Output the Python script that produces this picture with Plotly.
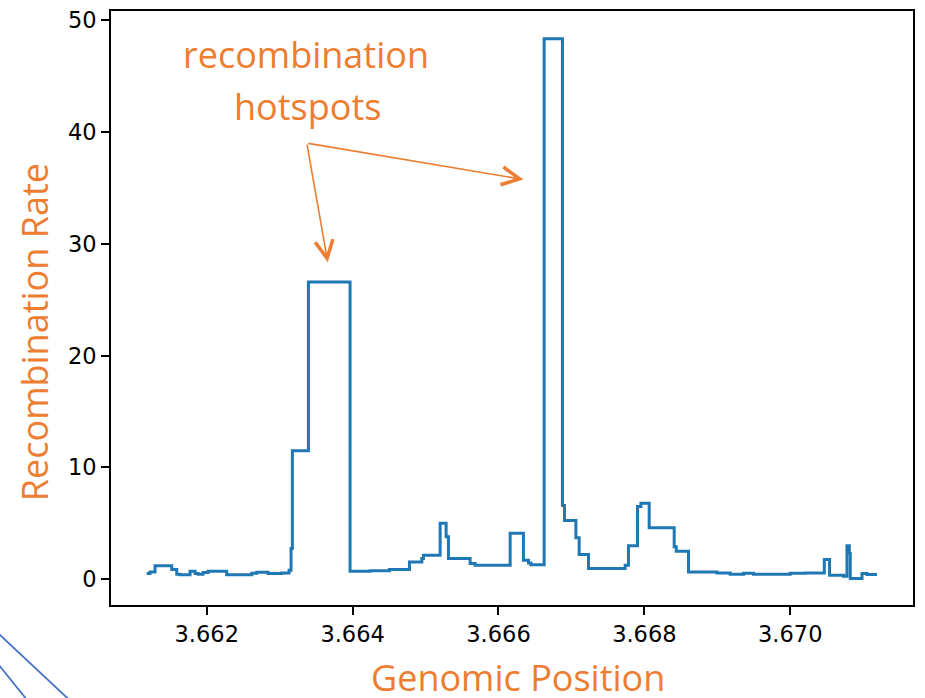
import plotly.graph_objects as go

# Genomic positions (step start points) and recombination rates
positions = [
    3.661177, 3.661222, 3.661291, 3.661520, 3.661589, 3.661634, 3.661771, 3.661840,
    3.661881, 3.661949, 3.662018, 3.662274, 3.662617, 3.662686, 3.662841, 3.663029,
    3.663129, 3.663156, 3.663174, 3.663394, 3.663965, 3.664240, 3.664504, 3.664779,
    3.664949, 3.664971, 3.665200, 3.665282, 3.665314, 3.665611, 3.665680, 3.666160,
    3.666342, 3.666411, 3.666444, 3.666626, 3.666877, 3.666905, 3.667061, 3.667106,
    3.667234, 3.667737, 3.667782, 3.667906, 3.667953, 3.668066, 3.668409, 3.668437,
    3.668605, 3.668995, 3.669177, 3.669360, 3.669497, 3.670000, 3.670206, 3.670467,
    3.670539, 3.670731, 3.670778, 3.670810, 3.670823, 3.670984, 3.671052, 3.671189,
]
rates = [
    0.50, 0.65, 1.20, 0.86, 0.44, 0.40, 0.70, 0.50,
    0.45, 0.60, 0.70, 0.40, 0.53, 0.62, 0.50, 0.56,
    0.80, 2.75, 11.5, 26.6, 0.72, 0.76, 0.86, 1.54,
    1.84, 2.15, 5.0, 3.8, 1.84, 1.40, 1.24, 4.1,
    1.70, 1.45, 1.30, 48.35, 6.6, 5.24, 3.7, 2.2,
    0.95, 1.24, 3.0, 6.5, 6.8, 4.6, 2.9, 2.5,
    0.65, 0.56, 0.44, 0.53, 0.44, 0.53, 0.56, 1.75,
    0.36, 0.27, 3.0, 2.3, 0.06, 0.50, 0.42, 0.42,
]

x_ticks = [3.662, 3.664, 3.666, 3.668, 3.670]
x_tick_labels = ["3.662", "3.664", "3.666", "3.668", "3.670"]
y_ticks = [0, 10, 20, 30, 40, 50]
y_tick_labels = ["0", "10", "20", "30", "40", "50"]

ORANGE = "#ED7D31"
BLUE = "#1f77b4"

fig = go.Figure()
fig.add_trace(go.Scatter(
    x=positions, y=rates, mode="lines", line_shape="hv",
    line=dict(color=BLUE, width=3), showlegend=False, hoverinfo="skip",
))

axis_common = dict(
    showline=True, linecolor="black", linewidth=1.8, mirror=True,
    ticks="outside", ticklen=8, tickwidth=1.6, tickcolor="black",
    showgrid=False, zeroline=False,
    tickfont=dict(family="DejaVu Sans", size=22.5, color="black"),
)

fig.update_layout(
    width=925, height=698, autosize=False,
    margin=dict(l=111, r=12, t=7, b=93, pad=0),
    paper_bgcolor="white", plot_bgcolor="white",
    xaxis=dict(range=[3.6606874, 3.6716831], tickmode="array",
               tickvals=x_ticks, ticktext=x_tick_labels, **axis_common),
    yaxis=dict(range=[-2.311, 50.84], tickmode="array",
               tickvals=y_ticks, ticktext=y_tick_labels, **axis_common),
)

title_font = dict(family="Open Sans", size=36, color=ORANGE)
annos = [
    dict(text="Genomic Position", xref="paper", yref="paper",
         x=0.5077, y=-0.122, xanchor="center", yanchor="middle",
         showarrow=False, font=title_font),
    dict(text="Recombination Rate", xref="paper", yref="paper",
         x=-0.095, y=0.459, xanchor="center", yanchor="middle", textangle=-90,
         showarrow=False, font=title_font),
    dict(text="recombination", xref="paper", yref="paper",
         x=0.2435, y=0.926, xanchor="center", yanchor="middle",
         showarrow=False, font=title_font),
    dict(text="hotspots", xref="paper", yref="paper",
         x=0.2445, y=0.840, xanchor="center", yanchor="middle",
         showarrow=False, font=title_font),
]
# arrows from the label to both hotspots
tail = (3.663372, 39.02)
for head in [(3.663660, 28.36), (3.666342, 35.76)]:
    annos.append(dict(
        text="", x=head[0], y=head[1], xref="x", yref="y",
        ax=tail[0], ay=tail[1], axref="x", ayref="y",
        showarrow=True, arrowhead=5, arrowsize=2.2, arrowwidth=1.6,
        arrowcolor=ORANGE, standoff=0, startstandoff=0,
    ))
fig.update_layout(annotations=annos)

# decorative slide lines at bottom-left
px_l, px_w, px_t, px_h = 111, 801.7, 7, 598
def pxp(x, y):
    return (x - px_l) / px_w, (px_t + px_h - y) / px_h
for (x0, y0, x1, y1) in [(-20, 616.2, 80, 710.6), (-10, 654.2, 35, 710.5)]:
    a = pxp(x0, y0); b = pxp(x1, y1)
    fig.add_shape(type="line", xref="paper", yref="paper",
                  x0=a[0], y0=a[1], x1=b[0], y1=b[1],
                  line=dict(color="#4472C4", width=1.8))

fig.write_html("out.html")
